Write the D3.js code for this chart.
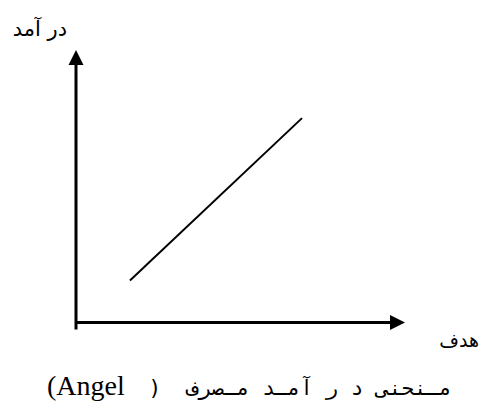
<!DOCTYPE html>
<html><head><meta charset="utf-8">
<script src="https://cdn.jsdelivr.net/npm/d3@7"></script>
<style>html,body{margin:0;padding:0;background:#fff;}svg{display:block;}</style>
</head><body>
<script>
// Data
const xDomain = [0, 100];
const yDomain = [0, 100];
const lineX = [16.4, 68.7];
const lineY = [15.4, 75];
const yLabel = "در آمد";
const xLabel = "هدف";
const captionArabic = "مـنحنی د ر آمـد مـصرف \u00A0(";
const captionLatin = "(Angel";

const W = 491, H = 403;
const svg = d3.select("body").append("svg").attr("width", W).attr("height", H);

const x = d3.scaleLinear().domain(xDomain).range([76, 405]);
const y = d3.scaleLinear().domain(yDomain).range([322.5, 50]);

const arrowLen = 15, arrowHalf = 7.5;

// vertical axis
svg.append("line")
  .attr("x1", x(0)).attr("x2", x(0))
  .attr("y1", y(0) + 7).attr("y2", y(yDomain[1]) + arrowLen - 1)
  .attr("stroke", "#000").attr("stroke-width", 3);
svg.append("path")
  .attr("d", `M${x(0)},${y(yDomain[1])} L${x(0)-arrowHalf},${y(yDomain[1])+arrowLen} L${x(0)+arrowHalf},${y(yDomain[1])+arrowLen} Z`)
  .attr("fill", "#000");

// horizontal axis
svg.append("line")
  .attr("x1", x(0)).attr("x2", x(xDomain[1]) - arrowLen + 1)
  .attr("y1", y(0)).attr("y2", y(0))
  .attr("stroke", "#000").attr("stroke-width", 3);
svg.append("path")
  .attr("d", `M${x(xDomain[1])},${y(0)} L${x(xDomain[1])-arrowLen},${y(0)-arrowHalf} L${x(xDomain[1])-arrowLen},${y(0)+arrowHalf} Z`)
  .attr("fill", "#000");

// data line
const pts = lineX.map((v, i) => [v, lineY[i]]);
svg.append("path")
  .datum(pts)
  .attr("d", d3.line().x(d => x(d[0])).y(d => y(d[1])))
  .attr("fill", "none").attr("stroke", "#000").attr("stroke-width", 2);

// labels
svg.append("text")
  .attr("x", 67).attr("y", 36)
  .attr("direction", "rtl").attr("text-anchor", "start")
  .attr("font-family", "DejaVu Sans").attr("font-size", 21)
  .text(yLabel);

svg.append("text")
  .attr("x", 479).attr("y", 347)
  .attr("direction", "rtl").attr("text-anchor", "start")
  .attr("font-family", "DejaVu Sans").attr("font-size", 19)
  .text(xLabel);

svg.append("text")
  .attr("x", 47).attr("y", 395)
  .attr("font-family", "Liberation Serif").attr("font-size", 28)
  .text(captionLatin);

svg.append("text")
  .attr("x", 452).attr("y", 395)
  .attr("direction", "rtl").attr("text-anchor", "start")
  .attr("font-family", "DejaVu Sans Mono").attr("font-size", 21)
  .text(captionArabic);
</script>
</body></html>
